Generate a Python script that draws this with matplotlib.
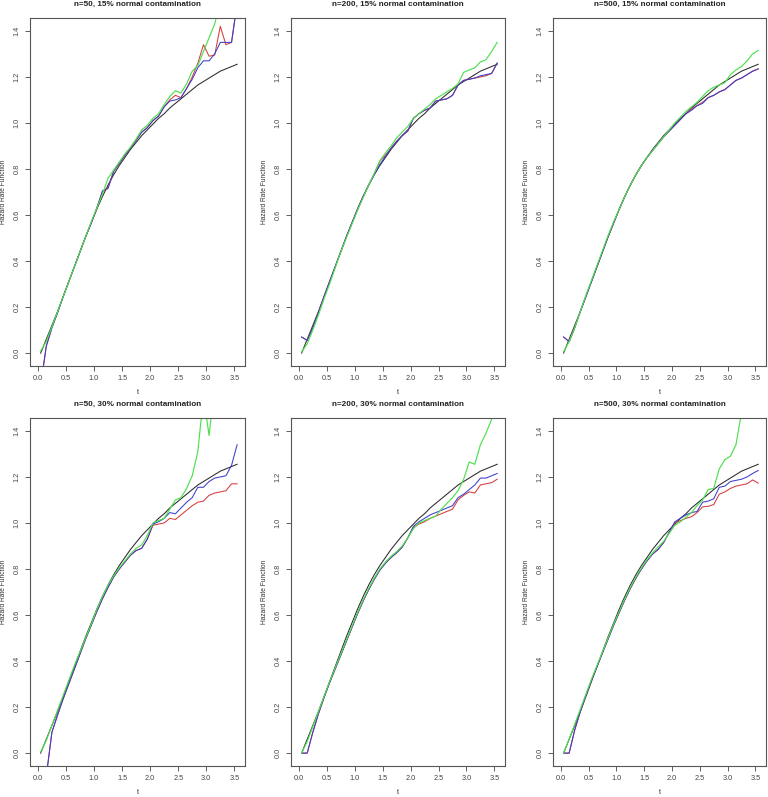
import matplotlib
matplotlib.use("Agg")
import matplotlib.pyplot as plt

plt.rcParams['font.family'] = ['Liberation Sans', 'DejaVu Sans']

# evaluation grid and true hazard rate
t = [0.05, 0.15, 0.25, 0.35, 0.45, 0.55, 0.65, 0.75, 0.85, 0.95,
     1.05, 1.15, 1.25, 1.35, 1.45, 1.55, 1.65, 1.75, 1.85, 1.95,
     2.05, 2.15, 2.25, 2.35, 2.45, 2.55, 2.65, 2.75, 2.85, 2.95,
     3.05, 3.15, 3.25, 3.35, 3.45, 3.55]
true_h = [0.00, 0.06, 0.12, 0.18, 0.245, 0.31, 0.375, 0.44, 0.505, 0.565,
          0.625, 0.68, 0.73, 0.775, 0.815, 0.85, 0.885, 0.915, 0.945, 0.97,
          0.995, 1.02, 1.04, 1.065, 1.085, 1.105, 1.125, 1.145, 1.165, 1.18,
          1.195, 1.21, 1.225, 1.235, 1.245, 1.255]

titles = ["n=50, 15% normal contamination", "n=200, 15% normal contamination",
          "n=500, 15% normal contamination", "n=50, 30% normal contamination",
          "n=200, 30% normal contamination", "n=500, 30% normal contamination"]

# n=50, 15%
red_1 = [-0.14, 0.03, 0.11, 0.175, 0.245, 0.31, 0.375, 0.44, 0.505, 0.565,
         0.63, 0.70, 0.72, 0.79, 0.825, 0.86, 0.89, 0.925, 0.96, 0.98,
         1.01, 1.03, 1.07, 1.10, 1.12, 1.11, 1.15, 1.20, 1.26, 1.34,
         1.29, 1.295, 1.42, 1.34, 1.35, 1.52]
blue_1 = [-0.14, 0.03, 0.11, 0.175, 0.245, 0.31, 0.375, 0.44, 0.505, 0.565,
          0.63, 0.705, 0.715, 0.79, 0.825, 0.86, 0.89, 0.925, 0.96, 0.98,
          1.01, 1.03, 1.07, 1.095, 1.10, 1.11, 1.15, 1.19, 1.24, 1.27,
          1.27, 1.30, 1.35, 1.35, 1.35, 1.52]
green_1 = [0.01, 0.05, 0.115, 0.18, 0.245, 0.31, 0.375, 0.44, 0.505, 0.57,
           0.63, 0.69, 0.76, 0.795, 0.83, 0.865, 0.895, 0.93, 0.97, 0.99,
           1.02, 1.04, 1.08, 1.115, 1.14, 1.13, 1.17, 1.225, 1.25, 1.31,
           1.37, 1.43, 1.53, 1.62, 1.70, 1.80]

# n=200, 15%
red_2 = [0.07, 0.055, 0.11, 0.175, 0.245, 0.31, 0.375, 0.44, 0.505, 0.565,
         0.625, 0.68, 0.73, 0.78, 0.835, 0.86, 0.89, 0.92, 0.945, 0.965,
         1.02, 1.04, 1.055, 1.065, 1.095, 1.10, 1.105, 1.12, 1.165, 1.185,
         1.19, 1.195, 1.20, 1.205, 1.215, 1.26]
blue_2 = [0.07, 0.055, 0.11, 0.175, 0.245, 0.31, 0.375, 0.44, 0.505, 0.565,
          0.625, 0.68, 0.73, 0.775, 0.82, 0.855, 0.89, 0.92, 0.945, 0.965,
          1.02, 1.04, 1.055, 1.065, 1.095, 1.10, 1.105, 1.12, 1.165, 1.185,
          1.19, 1.195, 1.205, 1.21, 1.215, 1.26]
green_2 = [0.005, 0.04, 0.10, 0.165, 0.235, 0.30, 0.37, 0.44, 0.50, 0.56,
           0.62, 0.675, 0.73, 0.78, 0.835, 0.87, 0.90, 0.935, 0.96, 0.985,
           1.02, 1.04, 1.06, 1.08, 1.105, 1.12, 1.135, 1.15, 1.17, 1.22,
           1.23, 1.24, 1.265, 1.275, 1.31, 1.35]

# n=500, 15%
red_3 = [0.07, 0.05, 0.11, 0.18, 0.245, 0.31, 0.375, 0.44, 0.505, 0.565,
         0.625, 0.68, 0.73, 0.775, 0.815, 0.85, 0.88, 0.91, 0.94, 0.965,
         0.99, 1.015, 1.04, 1.06, 1.075, 1.09, 1.11, 1.12, 1.135, 1.145,
         1.165, 1.185, 1.195, 1.21, 1.225, 1.235]
blue_3 = [0.07, 0.05, 0.11, 0.18, 0.245, 0.31, 0.375, 0.44, 0.505, 0.565,
          0.625, 0.68, 0.73, 0.775, 0.815, 0.85, 0.88, 0.91, 0.94, 0.965,
          0.99, 1.015, 1.04, 1.055, 1.075, 1.085, 1.11, 1.12, 1.135, 1.145,
          1.165, 1.185, 1.195, 1.21, 1.225, 1.235]
green_3 = [0.005, 0.05, 0.11, 0.18, 0.25, 0.315, 0.38, 0.445, 0.51, 0.57,
           0.625, 0.68, 0.73, 0.775, 0.815, 0.85, 0.88, 0.91, 0.94, 0.97,
           1.00, 1.025, 1.05, 1.07, 1.09, 1.115, 1.14, 1.155, 1.165, 1.175,
           1.21, 1.23, 1.245, 1.27, 1.30, 1.315]

# n=50, 30%
red_4 = [-0.4, -0.1, 0.09, 0.165, 0.235, 0.30, 0.365, 0.43, 0.495, 0.555,
         0.615, 0.67, 0.72, 0.765, 0.80, 0.83, 0.86, 0.88, 0.89, 0.93,
         0.99, 0.995, 1.00, 1.02, 1.015, 1.035, 1.055, 1.075, 1.09, 1.095,
         1.12, 1.13, 1.135, 1.14, 1.17, 1.17]
blue_4 = [-0.4, -0.1, 0.09, 0.165, 0.235, 0.30, 0.365, 0.43, 0.495, 0.555,
          0.615, 0.67, 0.72, 0.765, 0.80, 0.83, 0.86, 0.88, 0.89, 0.93,
          0.995, 1.005, 1.02, 1.045, 1.04, 1.065, 1.09, 1.11, 1.155, 1.155,
          1.18, 1.195, 1.20, 1.205, 1.25, 1.34]
green_4 = [0.005, 0.055, 0.12, 0.185, 0.25, 0.315, 0.38, 0.44, 0.50, 0.56,
           0.625, 0.68, 0.73, 0.77, 0.805, 0.835, 0.865, 0.89, 0.905, 0.945,
           1.00, 1.01, 1.02, 1.06, 1.10, 1.11, 1.15, 1.205, 1.31, 1.55,
           1.38, 1.60, 1.75, 1.90, 2.00, 2.10]

# n=200, 30%
red_5 = [0.0, 0.0, 0.09, 0.17, 0.24, 0.305, 0.365, 0.425, 0.485, 0.545,
         0.605, 0.66, 0.71, 0.755, 0.795, 0.825, 0.85, 0.87, 0.895, 0.935,
         0.98, 0.995, 1.005, 1.02, 1.03, 1.04, 1.05, 1.06, 1.10, 1.12,
         1.135, 1.13, 1.165, 1.17, 1.175, 1.19]
blue_5 = [0.0, 0.0, 0.09, 0.17, 0.24, 0.305, 0.365, 0.425, 0.485, 0.545,
          0.605, 0.66, 0.71, 0.755, 0.795, 0.825, 0.85, 0.87, 0.895, 0.935,
          0.985, 1.005, 1.02, 1.035, 1.045, 1.055, 1.065, 1.075, 1.11, 1.125,
          1.145, 1.165, 1.195, 1.195, 1.205, 1.215]
green_5 = [0.0, 0.05, 0.115, 0.18, 0.245, 0.31, 0.37, 0.43, 0.49, 0.55,
           0.61, 0.665, 0.715, 0.76, 0.80, 0.83, 0.855, 0.875, 0.90, 0.935,
           0.975, 1.00, 1.01, 1.02, 1.03, 1.06, 1.085, 1.11, 1.14, 1.19,
           1.265, 1.255, 1.34, 1.39, 1.45, 1.52]

# n=500, 30%
red_6 = [0.0, 0.0, 0.10, 0.18, 0.25, 0.315, 0.375, 0.435, 0.495, 0.555,
         0.61, 0.665, 0.715, 0.76, 0.80, 0.835, 0.865, 0.885, 0.915, 0.96,
         1.00, 1.01, 1.02, 1.027, 1.045, 1.07, 1.072, 1.08, 1.125, 1.135,
         1.15, 1.16, 1.165, 1.17, 1.187, 1.173]
blue_6 = [0.0, 0.0, 0.10, 0.18, 0.25, 0.315, 0.375, 0.435, 0.495, 0.555,
          0.61, 0.665, 0.715, 0.76, 0.80, 0.835, 0.865, 0.885, 0.915, 0.96,
          1.005, 1.02, 1.035, 1.045, 1.05, 1.09, 1.095, 1.105, 1.155, 1.16,
          1.18, 1.185, 1.19, 1.20, 1.215, 1.228]
green_6 = [0.0, 0.06, 0.125, 0.19, 0.255, 0.32, 0.38, 0.44, 0.50, 0.56,
           0.615, 0.67, 0.72, 0.765, 0.805, 0.84, 0.87, 0.895, 0.92, 0.955,
           0.99, 1.005, 1.025, 1.045, 1.075, 1.10, 1.145, 1.15, 1.235, 1.275,
           1.29, 1.34, 1.48, 1.62, 1.75, 1.85]

reds = [red_1, red_2, red_3, red_4, red_5, red_6]
blues = [blue_1, blue_2, blue_3, blue_4, blue_5, blue_6]
greens = [green_1, green_2, green_3, green_4, green_5, green_6]

W, H = 768, 797
fig = plt.figure(figsize=(W / 100, H / 100), dpi=100)

col_left = [30, 291, 553]
col_width = [215, 214, 213]
row_top = [18, 418]
box_h = 348

for i in range(6):
    r, c = divmod(i, 3)
    x0, w = col_left[c], col_width[c]
    ax = fig.add_axes([x0 / W, 1 - (row_top[r] + box_h) / H, w / W, box_h / H])

    ax.plot(t, true_h, color='#2a2a2a', lw=0.75)
    ax.plot(t, reds[i], color='#d83b3b', lw=0.75)
    ax.plot(t, blues[i], color='#3d3dcc', lw=0.75)
    ax.plot(t, greens[i], color='#4ee04e', lw=0.85)

    ax.set_xlim(-0.14, 3.69)
    ax.set_ylim(-0.056, 1.456)
    ax.set_xticks([0.0, 0.5, 1.0, 1.5, 2.0, 2.5, 3.0, 3.5])
    ax.set_yticks([0.0, 0.2, 0.4, 0.6, 0.8, 1.0, 1.2, 1.4])
    ax.set_xticklabels(["%.1f" % v for v in ax.get_xticks()])
    ax.set_yticklabels(["%.1f" % v for v in ax.get_yticks()], rotation=90, va='center')
    ax.tick_params(direction='out', length=3.5, width=0.6, color='#444444',
                   labelsize=5.3, labelcolor='#444444', pad=3.3)
    for s in ax.spines.values():
        s.set_color('#555555')
        s.set_linewidth(0.8)

    ax.text(0.5, 1 + 14 / box_h, titles[i], transform=ax.transAxes,
            ha='center', va='center', fontsize=5.9, fontweight='bold', color='#222222')
    ax.text(0.5, -27 / box_h, "t", transform=ax.transAxes,
            ha='center', va='center', fontsize=5.2, color='#333333')
    ax.text(-26 / w, 0.5, "Hazard Rate Function", transform=ax.transAxes,
            ha='center', va='center', rotation=90, fontsize=4.8, color='#333333')

fig.savefig("out.png", dpi=100)
